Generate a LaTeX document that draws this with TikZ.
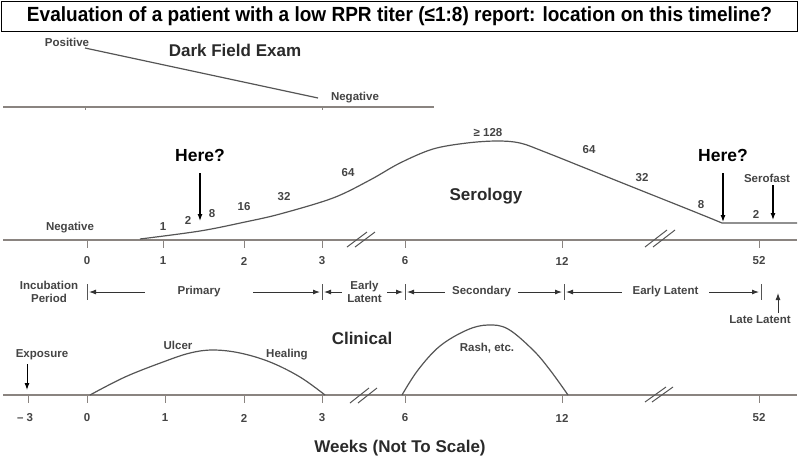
\documentclass[tikz,border=0pt]{standalone}
\usepackage{graphicx}
\usepackage{fontspec}
\setmainfont{Liberation Sans}
\usetikzlibrary{arrows.meta}
\definecolor{axisgray}{HTML}{8A8480}
\definecolor{curvegray}{HTML}{555555}
\definecolor{labelgray}{HTML}{444444}
\definecolor{headgray}{HTML}{2A2A2A}

\begin{document}
\begin{tikzpicture}[x=1pt,y=-1pt,
    lbl/.style={text=labelgray,font=\fontsize{11.5}{13}\selectfont\bfseries,inner sep=0pt,align=center},
    head/.style={text=headgray,font=\fontsize{17}{17}\selectfont\bfseries,inner sep=0pt},
    here/.style={font=\fontsize{17.5}{17.5}\selectfont\bfseries,inner sep=0pt},
    axis/.style={axisgray,line width=1.4pt},
    curve/.style={curvegray,line width=1.2pt},
    tick/.style={axisgray,line width=1pt},
    bar/.style={curvegray,line width=1pt},
    phase/.style={black!80,line width=0.9pt,shorten >=2pt,-{Latex[length=7pt,width=5pt]}},
    down/.style={black,line width=1.2pt,-{Latex[length=7pt,width=5pt]}},
    brk/.style={curvegray,line width=1pt}]
    \useasboundingbox (0,0) rectangle (800,459);
    % 标题
    \node[draw,line width=1pt,minimum width=796pt,minimum height=30pt,inner sep=0pt] (title) at (399.5,16)
        {\resizebox{745pt}{\height}{\fontsize{20.5}{20.5}\selectfont\bfseries Evaluation of a patient with a low RPR titer (≤1:8) report: location on this timeline?}};
    % Dark Field Exam
    \draw[axis] (3,107) -- (434,107);
    \foreach \x in {85,322} \draw[tick] (\x,107) -- (\x,110);
    \coordinate (dfA) at (85,48);
    \coordinate (dfB) at (318,98);
    \draw[curve] (dfA) -- (dfB);
    \node[lbl] (dfpos) at (67,42) {Positive};
    \node[lbl] (dfneg) at (355,98) {Negative};
    \node[head] (dark) at (235,50) {Dark Field Exam};
    % 血清学 坐标轴
    \draw[axis] (3,240) -- (797,240);
    \foreach \x/\t in {87/0,163/1,244/2,322/3,405/6,562/12,759/52} {
        \draw[tick] (\x,240) -- (\x,248);
        \node[lbl] (sx\t) at (\x,261) {\t};
    }
    \foreach \x in {347,355} \draw[brk] (\x,247) -- (\x+20,232);
    \foreach \x in {645,653} \draw[brk] (\x,247) -- (\x+22,230);
    % 滴度曲线
    \draw[curve] plot[smooth,tension=0.55] coordinates {(140,239) (200,231) (245,222) (280,214) (333,198) (370,180) (400,163) (433,149) (467,143) (497,141) (520,143) (545,152) (600,174) (650,194) (700,214) (722,223)} -- (797,223);
    \foreach \x/\y/\t in {163/227/1,188/220/2,212/214/8,244/207/16,284/197/32,348/173/64,488/133/≥ 128,589/150/64,642/178/32,701/205/8,756/214/2}
        \node[lbl] (ti\x) at (\x,\y) {\t};
    \node[lbl] (serneg) at (70,228) {Negative};
    \node[head] (sero) at (486,196) {Serology};
    % Here?
    \node[here] (hereL) at (200,155) {Here?};
    \coordinate (tipL) at (200,221);
    \draw[down,shorten <=12pt] (hereL.south) -- (tipL);
    \node[here] (hereR) at (723,155) {Here?};
    \coordinate (tipR) at (723,222);
    \draw[down,shorten <=12pt] (hereR.south) -- (tipR);
    \node[lbl] (serofast) at (767,178) {Serofast};
    \coordinate (sfTip) at (773,220);
    \draw[down,shorten <=3pt] (serofast.south -| sfTip) -- (sfTip);
    % 分期
    \foreach \n/\x in {b0/87,b3/322,b6/405,b12/564,b52/761} {
        \draw[bar] (\x,284) -- (\x,300);
        \coordinate (\n) at (\x,292);
    }
    \node[lbl] (incub) at (49,292) {Incubation\\Period};
    \node[lbl,minimum width=108pt] (prim) at (199,292) {Primary};
    \draw[phase] (prim.west) -- (b0);
    \draw[phase] (prim.east) -- (b3);
    \node[lbl,minimum width=45pt] (elat) at (364.5,292) {Early\\Latent};
    \draw[phase] (elat.west) -- (b3);
    \draw[phase] (elat.east) -- (b6);
    \node[lbl,minimum width=73pt] (sec) at (481.5,292) {Secondary};
    \draw[phase] (sec.west) -- (b6);
    \draw[phase] (sec.east) -- (b12);
    \node[lbl,minimum width=87pt] (elat2) at (665.5,292) {Early Latent};
    \draw[phase] (elat2.west) -- (b12);
    \draw[phase] (elat2.east) -- (b52);
    \node[lbl] (llat) at (760,320) {Late Latent};
    \coordinate (llTip) at (778,293);
    \draw[phase,shorten <=3pt,shorten >=0pt] (llat.north -| llTip) -- (llTip);
    % 临床
    \node[head] (clin) at (362,338) {Clinical};
    \draw[axis] (3,395) -- (797,395);
    \foreach \x/\t in {87/0,165/1,244/2,322/3,405/6,562/12,759/52} {
        \draw[tick] (\x,395) -- (\x,403);
        \node[lbl] (cx\t) at (\x,418) {\t};
    }
    \draw[tick] (28,395) -- (28,403);
    \node[lbl] (cxm3) at (25,418) {– 3};
    \foreach \x in {350,358} \draw[brk] (\x,403) -- (\x+19,388);
    \foreach \x in {645,652} \draw[brk] (\x,402) -- (\x+21,387);
    \draw[curve] plot[smooth,tension=0.6] coordinates {(90,395) (125,377) (163,362) (190,353) (213,350) (240,353) (270,362) (300,377) (325,395)};
    \draw[curve] plot[smooth,tension=0.6] coordinates {(402,395) (418,370) (440,346) (467,330) (488,325) (508,329) (533,350) (550,370) (568,395)};
    \node[lbl] (ulcer) at (178,345) {Ulcer};
    \node[lbl] (heal) at (287,355) {Healing};
    \node[lbl] (rash) at (487,348) {Rash, etc.};
    \node[lbl] (expo) at (42,355) {Exposure};
    \coordinate (expoTip) at (27,390);
    \draw[down,line width=1pt,shorten <=4pt] (expo.south -| expoTip) -- (expoTip);
    \node[head] (weeks) at (400,448) {Weeks (Not To Scale)};
\end{tikzpicture}
\end{document}
